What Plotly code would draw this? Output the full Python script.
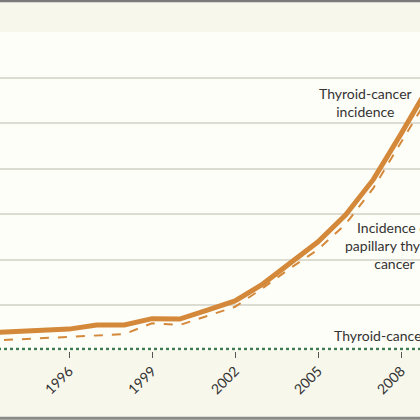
import plotly.graph_objects as go

# Korea, rate per 100,000
years = [1993, 1994, 1995, 1996, 1997, 1998, 1999, 2000, 2001,
         2002, 2003, 2004, 2005, 2006, 2007, 2008, 2009]
incidence = [3.9, 4.2, 4.4, 4.7, 5.6, 5.6, 7.0, 6.9, 8.9,
             10.9, 14.6, 19.2, 23.9, 29.8, 37.6, 47.6, 58.0]
papillary = [2.1, 2.4, 2.6, 3.0, 3.3, 3.6, 6.0, 5.6, 7.6,
             9.6, 13.7, 18.1, 22.2, 27.8, 35.7, 45.6, 55.8]
mortality = [0.35, 0.35, 0.35, 0.35, 0.35, 0.35, 0.35, 0.35, 0.35,
             0.35, 0.35, 0.35, 0.35, 0.35, 0.35, 0.35, 0.35]
tick_years = [1996, 1999, 2002, 2005, 2008]

orange = "#D4883A"
green = "#3E7B50"
txt = "#333333"
font = "Lato"

fig = go.Figure()
fig.add_trace(go.Scatter(x=years, y=mortality, mode="lines",
                         line=dict(color=green, width=2.5, dash="dot")))
fig.add_trace(go.Scatter(x=years, y=papillary, mode="lines",
                         line=dict(color=orange, width=2, dash="dash")))
fig.add_trace(go.Scatter(x=years, y=incidence, mode="lines",
                         line=dict(color=orange, width=5)))

labels = [
    dict(x=2006.7, y=54.6, text="Thyroid-cancer<br>incidence", xanchor="center"),
    dict(x=2007.78, y=23.0, text="Incidence of<br>papillary thyroid<br>cancer", xanchor="center"),
    dict(x=2005.5, y=3.2, text="Thyroid-cancer mortality", xanchor="left"),
]
for a in labels:
    fig.add_annotation(**a, xref="x", yref="y", yanchor="middle", showarrow=False,
                       font=dict(family=font, size=14, color=txt))

# frame lines top and bottom
fig.add_shape(type="line", xref="paper", yref="paper", x0=0, x1=1, y0=0.9975, y1=0.9975,
              line=dict(color="#7a7a7a", width=2.5))
fig.add_shape(type="line", xref="paper", yref="paper", x0=0, x1=1, y0=0.004, y1=0.004,
              line=dict(color="#8a8a8a", width=3))

fig.update_xaxes(range=[1993.506, 2008.685], tickvals=tick_years, ticktext=[str(t) for t in tick_years],
                 tickangle=-45, ticks="outside", ticklen=6, tickcolor="#555555", tickwidth=1.2,
                 showgrid=False, zeroline=False, showline=False,
                 tickfont=dict(family=font, size=14, color=txt))
fig.update_yaxes(range=[0, 70], dtick=10, showticklabels=False, showgrid=True,
                 gridcolor="#dcdcd3", gridwidth=1.5, zeroline=False,
                 domain=[1 - 350.5 / 420, 1 - 32 / 420])

fig.update_layout(
    width=420, height=420,
    margin=dict(l=0, r=0, t=0, b=0),
    paper_bgcolor="#f7f7eb",
    plot_bgcolor="#fefef8",
    showlegend=False,
)

# drop the page's default body margin so the figure sits at the window corner
fig.write_html("out.html", config={"displayModeBar": False},
               post_script="document.body.style.margin='0';document.body.style.overflow='hidden';")
